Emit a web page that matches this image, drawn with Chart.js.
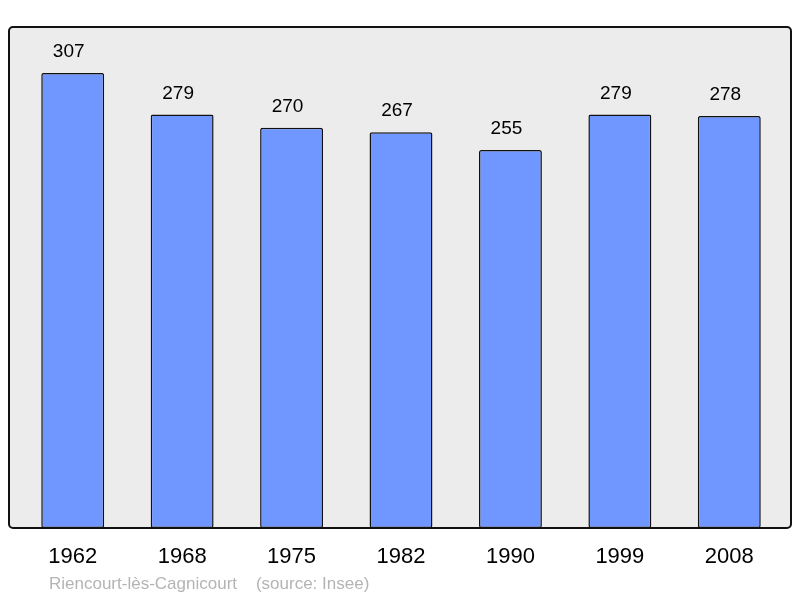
<!DOCTYPE html>
<html lang="fr">
<head>
  <meta charset="UTF-8">
  <title>Riencourt-lès-Cagnicourt</title>
  <style>
    html, body { margin: 0; padding: 0; background: #fff; }
    #wrap { width: 800px; height: 598px; }
  </style>
</head>
<body>
  <div id="wrap"><canvas id="popChart" width="800" height="598"></canvas></div>
  <script src="https://cdn.jsdelivr.net/npm/chart.js"></script>
  <script>
    const years = ['1962', '1968', '1975', '1982', '1990', '1999', '2008'];
    const population = [307, 279, 270, 267, 255, 279, 278];
    const footer = 'Riencourt-lès-Cagnicourt    (source: Insee)';

    // grey frame behind the bars
    const framePlugin = {
      id: 'frame',
      beforeDraw(chart) {
        const { ctx, chartArea } = chart;
        const x0 = chartArea.left - 9, x1 = chartArea.right + 7;
        const y0 = chartArea.top, y1 = chartArea.bottom;
        ctx.save();
        ctx.beginPath();
        ctx.roundRect(x0, y0, x1 - x0, y1 - y0, 4);
        ctx.fillStyle = '#ececec';
        ctx.fill();
        ctx.restore();
      },
      afterDatasetsDraw(chart) {
        const { ctx, chartArea } = chart;
        const x0 = chartArea.left - 9, x1 = chartArea.right + 7;
        const y0 = chartArea.top, y1 = chartArea.bottom;
        ctx.save();
        ctx.beginPath();
        ctx.roundRect(x0, y0, x1 - x0, y1 - y0, 4);
        ctx.lineWidth = 2;
        ctx.strokeStyle = '#111';
        ctx.stroke();

        // values above bars
        const meta = chart.getDatasetMeta(0);
        ctx.fillStyle = '#000';
        ctx.font = '19px "Liberation Sans", Arial, sans-serif';
        ctx.textAlign = 'center';
        ctx.textBaseline = 'middle';
        meta.data.forEach((bar, i) => {
          ctx.fillText(String(population[i]), bar.x - 4, bar.y - 21);
        });

        // footer text
        ctx.fillStyle = '#b4b4b4';
        ctx.font = '17px "Liberation Sans", Arial, sans-serif';
        ctx.textAlign = 'left';
        ctx.fillText(footer, 49, 584);
        ctx.restore();
      }
    };

    new Chart(document.getElementById('popChart'), {
      type: 'bar',
      data: {
        labels: years,
        datasets: [{
          data: population,
          backgroundColor: '#7096ff',
          borderColor: '#111',
          borderWidth: 1.5,
          borderRadius: 2,
          borderSkipped: false,
          barPercentage: 0.575,
          categoryPercentage: 1
        }]
      },
      options: {
        responsive: false,
        animation: false,
        layout: { padding: { left: 18, right: 16, top: 27, bottom: 0 } },
        plugins: { legend: { display: false }, tooltip: { enabled: false } },
        scales: {
          x: {
            grid: { display: false },
            border: { display: false },
            ticks: {
              color: '#000',
              font: { size: 22, family: '"Liberation Sans", Arial, sans-serif' },
              padding: 8
            },
            afterFit(scale) { scale.height = 70; }
          },
          y: {
            display: false,
            min: 0,
            max: 338
          }
        }
      },
      plugins: [framePlugin]
    });
  </script>
</body>
</html>
